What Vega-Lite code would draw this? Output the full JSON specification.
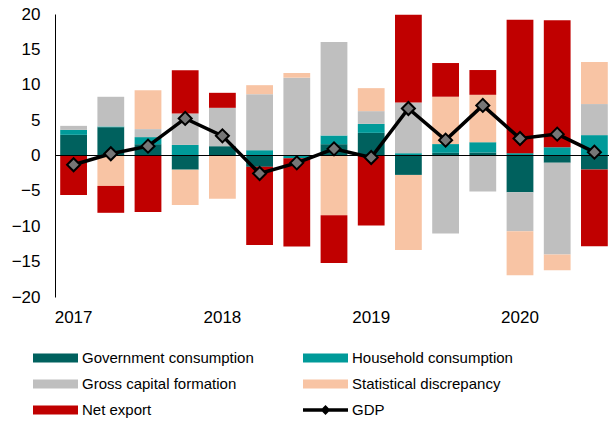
{
  "$schema": "https://vega.github.io/schema/vega-lite/v6.json",
  "autosize": {"type": "none"},
  "padding": {"left": 55, "top": 14, "right": 0, "bottom": 125},
  "width": 558,
  "height": 283,
  "config": {
    "view": {"stroke": null},
    "font": "Liberation Sans",
    "axis": {"grid": false, "labelOverlap": false},
    "axisY": {"labelOverlap": false, "ticks": false, "labelFontSize": 17, "labelColor": "black", "labelPadding": 15, "domainColor": "black", "tickCount": 8},
    "axisX": {"labelOverlap": false, "ticks": false, "domain": false, "labelFontSize": 17, "labelColor": "black", "labelPadding": 12, "labelAngle": 0}
  },
  "datasets": {
    "bars": [
      {"q": "2017 Q1", "s": "Government consumption", "o": 1, "v": 2.92},
      {"q": "2017 Q1", "s": "Household consumption", "o": 2, "v": 0.7},
      {"q": "2017 Q1", "s": "Gross capital formation", "o": 3, "v": 0.57},
      {"q": "2017 Q1", "s": "Net export", "o": 5, "v": -5.57},
      {"q": "2017 Q2", "s": "Government consumption", "o": 1, "v": 4.0},
      {"q": "2017 Q2", "s": "Household consumption", "o": 2, "v": 0.1},
      {"q": "2017 Q2", "s": "Gross capital formation", "o": 3, "v": 4.2},
      {"q": "2017 Q2", "s": "Statistical discrepancy", "o": 4, "v": -4.3},
      {"q": "2017 Q2", "s": "Net export", "o": 5, "v": -3.8},
      {"q": "2017 Q3", "s": "Government consumption", "o": 1, "v": 1.6},
      {"q": "2017 Q3", "s": "Household consumption", "o": 2, "v": 1.0},
      {"q": "2017 Q3", "s": "Gross capital formation", "o": 3, "v": 1.13},
      {"q": "2017 Q3", "s": "Statistical discrepancy", "o": 4, "v": 5.5},
      {"q": "2017 Q3", "s": "Net export", "o": 5, "v": -8.0},
      {"q": "2017 Q4", "s": "Government consumption", "o": 1, "v": -2.0},
      {"q": "2017 Q4", "s": "Household consumption", "o": 2, "v": 1.5},
      {"q": "2017 Q4", "s": "Gross capital formation", "o": 3, "v": 4.43},
      {"q": "2017 Q4", "s": "Statistical discrepancy", "o": 4, "v": -5.0},
      {"q": "2017 Q4", "s": "Net export", "o": 5, "v": 6.13},
      {"q": "2018 Q1", "s": "Government consumption", "o": 1, "v": 1.32},
      {"q": "2018 Q1", "s": "Gross capital formation", "o": 3, "v": 5.42},
      {"q": "2018 Q1", "s": "Statistical discrepancy", "o": 4, "v": -6.13},
      {"q": "2018 Q1", "s": "Net export", "o": 5, "v": 2.12},
      {"q": "2018 Q2", "s": "Government consumption", "o": 1, "v": -1.6},
      {"q": "2018 Q2", "s": "Household consumption", "o": 2, "v": 0.75},
      {"q": "2018 Q2", "s": "Gross capital formation", "o": 3, "v": 7.92},
      {"q": "2018 Q2", "s": "Statistical discrepancy", "o": 4, "v": 1.27},
      {"q": "2018 Q2", "s": "Net export", "o": 5, "v": -11.04},
      {"q": "2018 Q3", "s": "Household consumption", "o": 2, "v": -0.4},
      {"q": "2018 Q3", "s": "Gross capital formation", "o": 3, "v": 11.0},
      {"q": "2018 Q3", "s": "Statistical discrepancy", "o": 4, "v": 0.66},
      {"q": "2018 Q3", "s": "Net export", "o": 5, "v": -12.45},
      {"q": "2018 Q4", "s": "Government consumption", "o": 1, "v": 1.6},
      {"q": "2018 Q4", "s": "Household consumption", "o": 2, "v": 1.23},
      {"q": "2018 Q4", "s": "Gross capital formation", "o": 3, "v": 13.2},
      {"q": "2018 Q4", "s": "Statistical discrepancy", "o": 4, "v": -8.44},
      {"q": "2018 Q4", "s": "Net export", "o": 5, "v": -6.75},
      {"q": "2019 Q1", "s": "Government consumption", "o": 1, "v": 3.2},
      {"q": "2019 Q1", "s": "Household consumption", "o": 2, "v": 1.27},
      {"q": "2019 Q1", "s": "Gross capital formation", "o": 3, "v": 1.8},
      {"q": "2019 Q1", "s": "Statistical discrepancy", "o": 4, "v": 3.25},
      {"q": "2019 Q1", "s": "Net export", "o": 5, "v": -9.9},
      {"q": "2019 Q2", "s": "Government consumption", "o": 1, "v": -2.74},
      {"q": "2019 Q2", "s": "Household consumption", "o": 2, "v": 0.33},
      {"q": "2019 Q2", "s": "Gross capital formation", "o": 3, "v": 7.17},
      {"q": "2019 Q2", "s": "Statistical discrepancy", "o": 4, "v": -10.6},
      {"q": "2019 Q2", "s": "Net export", "o": 5, "v": 12.4},
      {"q": "2019 Q3", "s": "Government consumption", "o": 1, "v": 0.38},
      {"q": "2019 Q3", "s": "Household consumption", "o": 2, "v": 1.23},
      {"q": "2019 Q3", "s": "Gross capital formation", "o": 3, "v": -11.04},
      {"q": "2019 Q3", "s": "Statistical discrepancy", "o": 4, "v": 6.7},
      {"q": "2019 Q3", "s": "Net export", "o": 5, "v": 4.76},
      {"q": "2019 Q4", "s": "Government consumption", "o": 1, "v": 0.42},
      {"q": "2019 Q4", "s": "Household consumption", "o": 2, "v": 1.46},
      {"q": "2019 Q4", "s": "Gross capital formation", "o": 3, "v": -5.1},
      {"q": "2019 Q4", "s": "Statistical discrepancy", "o": 4, "v": 6.7},
      {"q": "2019 Q4", "s": "Net export", "o": 5, "v": 3.5},
      {"q": "2020 Q1", "s": "Government consumption", "o": 1, "v": -5.19},
      {"q": "2020 Q1", "s": "Household consumption", "o": 2, "v": 0.33},
      {"q": "2020 Q1", "s": "Gross capital formation", "o": 3, "v": -5.52},
      {"q": "2020 Q1", "s": "Statistical discrepancy", "o": 4, "v": -6.23},
      {"q": "2020 Q1", "s": "Net export", "o": 5, "v": 18.87},
      {"q": "2020 Q2", "s": "Government consumption", "o": 1, "v": -1.04},
      {"q": "2020 Q2", "s": "Household consumption", "o": 2, "v": 1.18},
      {"q": "2020 Q2", "s": "Gross capital formation", "o": 3, "v": -12.97},
      {"q": "2020 Q2", "s": "Statistical discrepancy", "o": 4, "v": -2.22},
      {"q": "2020 Q2", "s": "Net export", "o": 5, "v": 17.92},
      {"q": "2020 Q3", "s": "Government consumption", "o": 1, "v": -1.98},
      {"q": "2020 Q3", "s": "Household consumption", "o": 2, "v": 2.88},
      {"q": "2020 Q3", "s": "Gross capital formation", "o": 3, "v": 4.39},
      {"q": "2020 Q3", "s": "Statistical discrepancy", "o": 4, "v": 5.94},
      {"q": "2020 Q3", "s": "Net export", "o": 5, "v": -10.85}
    ],
    "gdp": [
      {"q": "2017 Q1", "s": "GDP", "v": -1.3},
      {"q": "2017 Q2", "s": "GDP", "v": 0.24},
      {"q": "2017 Q3", "s": "GDP", "v": 1.32},
      {"q": "2017 Q4", "s": "GDP", "v": 5.24},
      {"q": "2018 Q1", "s": "GDP", "v": 2.78},
      {"q": "2018 Q2", "s": "GDP", "v": -2.55},
      {"q": "2018 Q3", "s": "GDP", "v": -1.04},
      {"q": "2018 Q4", "s": "GDP", "v": 0.94},
      {"q": "2019 Q1", "s": "GDP", "v": -0.28},
      {"q": "2019 Q2", "s": "GDP", "v": 6.65},
      {"q": "2019 Q3", "s": "GDP", "v": 2.17},
      {"q": "2019 Q4", "s": "GDP", "v": 7.08},
      {"q": "2020 Q1", "s": "GDP", "v": 2.4},
      {"q": "2020 Q2", "s": "GDP", "v": 3.02},
      {"q": "2020 Q3", "s": "GDP", "v": 0.47}
    ]
  },
  "layer": [
    {
      "data": {"name": "bars"},
      "mark": {"type": "bar"},
      "encoding": {
        "x": {
          "field": "q", "type": "nominal", "sort": null,
          "scale": {"paddingInner": 0.28, "paddingOuter": 0.14},
          "axis": {
            "title": null,
            "labelExpr": "indexof(datum.value, 'Q1') > 0 ? substring(datum.value, 0, 4) : ''"
          }
        },
        "y": {
          "field": "v", "type": "quantitative", "stack": "zero",
          "scale": {"domain": [-20, 20], "nice": false},
          "axis": {
            "title": null, "tickCount": 8, "labelOverlap": false, "labelSeparation": 0, "labelBound": false,
            "format": "d"
          }
        },
        "color": {
          "field": "s", "type": "nominal",
          "scale": {
            "domain": ["Government consumption", "Household consumption", "Gross capital formation", "Statistical discrepancy", "Net export", "GDP"],
            "range": ["#00615e", "#009a99", "#bfbfbf", "#f8c4a4", "#c00000", "#000000"]
          },
          "legend": {
            "title": null, "orient": "none", "legendX": -22, "legendY": 335,
            "direction": "horizontal", "columns": 2, "columnPadding": 49, "rowPadding": 8,
            "labelFontSize": 15, "labelColor": "black", "labelOffset": 4,
            "symbolSize": 2025, "clipHeight": 18, "labelLimit": 400,
            "encode": {
              "symbols": {
                "update": {
                  "shape": {"signal": "datum.value === 'GDP' ? 'M-1,-0.08H1V0.08H-1Z M-0.22,0L0,-0.22L0.22,0L0,0.22Z' : 'M-1,-0.2H1V0.2H-1Z'"},
                  "fill": {"scale": "color", "field": "value"},
                  "stroke": {"value": "transparent"},
                  "strokeWidth": {"value": 0},
                  "opacity": {"value": 1}
                }
              }
            }
          }
        },
        "order": {"field": "o", "type": "quantitative"}
      }
    },
    {
      "data": {"values": [{"z": 0}]},
      "mark": {"type": "rule", "color": "black", "strokeWidth": 1},
      "encoding": {
        "y": {"field": "z", "type": "quantitative"}
      }
    },
    {
      "data": {"name": "gdp"},
      "mark": {"type": "line", "strokeWidth": 3.5},
      "encoding": {
        "x": {"field": "q", "type": "nominal", "sort": null},
        "y": {"field": "v", "type": "quantitative"},
        "color": {"field": "s", "type": "nominal"}
      }
    },
    {
      "data": {"name": "gdp"},
      "mark": {"type": "point", "shape": "diamond", "filled": true, "fill": "#767676", "stroke": "black", "strokeWidth": 2, "size": 170, "opacity": 1},
      "encoding": {
        "x": {"field": "q", "type": "nominal", "sort": null},
        "y": {"field": "v", "type": "quantitative"}
      }
    }
  ]
}
